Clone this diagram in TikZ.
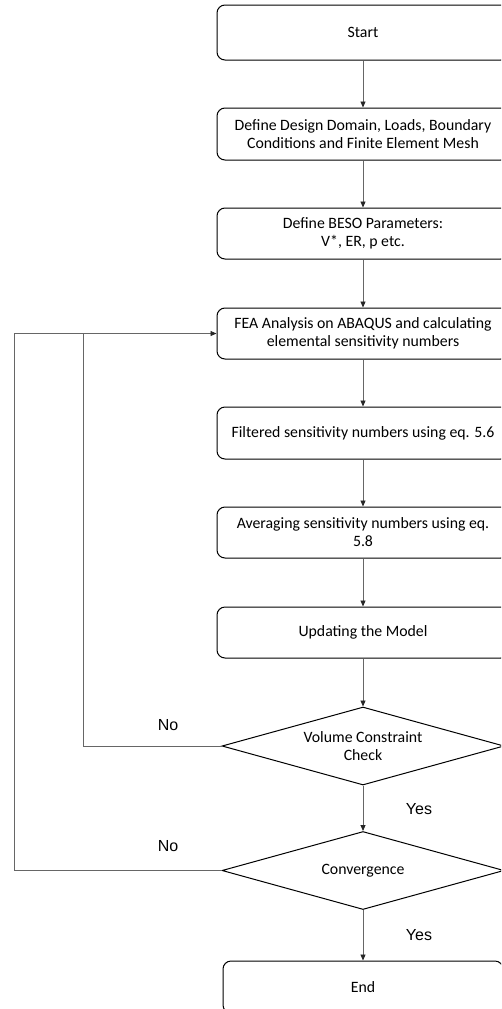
\documentclass[tikz,border=0pt]{standalone}
\usepackage{fontspec}
\setmainfont{Carlito}
\newfontfamily\arialfont{Liberation Sans}
\usetikzlibrary{shapes.geometric,arrows.meta}
\tikzset{
  procbox/.style={draw=black, line width=1pt, rounded corners=8pt, minimum width=292pt, align=center,
    font=\fontsize{15.8}{18}\selectfont, inner sep=0pt},
  decbox/.style={draw=black, line width=1pt, diamond, minimum width=282pt, minimum height=78pt, shape aspect=3.6,
    inner sep=0pt, align=center, font=\fontsize{15.8}{18}\selectfont},
  conn/.style={draw=gray!80!black, line width=0.9pt},
  arr/.style={conn, -{Triangle[length=6pt,width=5pt,color=black!85]}},
  lbl/.style={font=\arialfont\fontsize{16}{18}\selectfont, inner sep=0pt}
}
\begin{document}
\begin{tikzpicture}[x=1pt,y=-1pt]
\useasboundingbox (0,0) rectangle (501,1009);
\clip (0,0) rectangle (501,1009);
\node[procbox, minimum height=55pt] (b1) at (363,32.5) {Start};
\node[procbox, minimum height=52pt] (b2) at (363,134) {Define Design Domain, Loads, Boundary\\Conditions and Finite Element Mesh};
\node[procbox, minimum height=51pt] (b3) at (363,233.5) {Define BESO Parameters:\\V*, ER, p etc.};
\node[procbox, minimum height=51pt] (b4) at (363,333.5) {FEA Analysis on ABAQUS and calculating\\elemental sensitivity numbers};
\node[procbox, minimum height=52pt] (b5) at (363,433) {Filtered sensitivity numbers using eq. 5.6};
\node[procbox, minimum height=51pt] (b6) at (363,532.5) {Averaging sensitivity numbers using eq.\\5.8};
\node[procbox, minimum height=51pt] (b7) at (363,632.5) {Updating the Model};
\node[decbox] (d1) at (363,746) {Volume Constraint\\Check};
\node[decbox] (d2) at (363,870.5) {Convergence};
\node[procbox, minimum width=280pt, minimum height=52pt] (b8) at (363,987) {End};

\draw[arr] (b1) -- (b2);
\draw[arr] (b2) -- (b3);
\draw[arr] (b3) -- (b4);
\draw[arr] (b4) -- (b5);
\draw[arr] (b5) -- (b6);
\draw[arr] (b6) -- (b7);
\draw[arr] (b7) -- (d1);
\draw[arr] (d1) -- (d2);
\draw[arr] (d2) -- (b8);

\coordinate (L2) at (14,870.5);
\coordinate (J1) at (83,333.5);
\draw[arr] (d2.west) -- (L2) |- (b4.west);
\draw[conn] (d1.west) -| (J1);

\node[lbl] (no1) at (168,725) {No};
\node[lbl] (no2) at (168,846) {No};
\node[lbl] (yes1) at (419,809) {Yes};
\node[lbl] (yes2) at (419,935) {Yes};
\end{tikzpicture}
\end{document}
